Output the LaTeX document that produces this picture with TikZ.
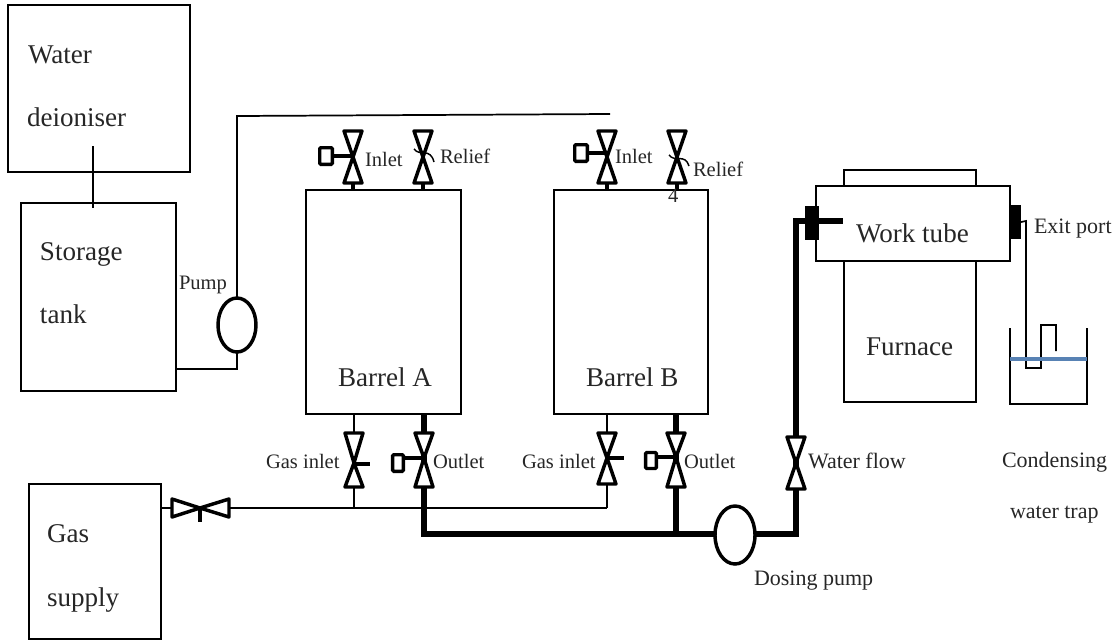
\documentclass[tikz,border=0pt]{standalone}
\usepackage{fontspec}
\usetikzlibrary{shapes.geometric}
\setmainfont{Liberation Serif}
\newcommand\fs[1]{\fontsize{#1}{#1}\selectfont}
% name, x, top, crossing, bottom
\newcommand\vvalve[5]{%
  \coordinate (#1t) at (#2,#3);\coordinate (#1c) at (#2,#4);\coordinate (#1b) at (#2,#5);
  \draw[valveline] (#2-9,#3)--(#2+9,#3)--(#2,#4)--(#2+9,#5)--(#2-9,#5)--(#2,#4)--cycle;}
\tikzset{
  x=0.75pt,y=-0.75pt,
  boxed/.style={draw=black,line width=1.5pt,fill=white,inner sep=0pt,outer sep=0pt},
  thinpipe/.style={draw=black,line width=1.3pt,line join=miter},
  medpipe/.style={draw=black,line width=2.4pt},
  thickpipe/.style={draw=black,line width=4.6pt,line join=miter},
  valveline/.style={draw=black,fill=white,line width=2.6pt,line join=round},
  handlebox/.style={draw=black,fill=white,line width=2.6pt,rounded corners=0.8pt,inner sep=0pt,outer sep=0pt},
  pumpshape/.style={ellipse,draw=black,line width=2.6pt,fill=white,inner sep=0pt,outer sep=0pt},
  plug/.style={fill=black,draw=none,inner sep=0pt,outer sep=0pt},
  lab/.style={inner sep=0pt,outer sep=0pt,anchor=base west,text=black!85,font=\fs{15.4}},
  biglab/.style={inner sep=0pt,outer sep=0pt,anchor=base west,text=black!85,font=\fs{16.5}},
  hugelab/.style={inner sep=0pt,outer sep=0pt,anchor=base west,text=black!85,font=\fs{20.3}},
}
\begin{document}
\begin{tikzpicture}
\useasboundingbox (0,0) rectangle (1118,640);
% boxes
\node[boxed,minimum width=136.5pt,minimum height=125.25pt] (deion) at (99,88) {};
\node[boxed,minimum width=116.25pt,minimum height=141pt] (tank) at (98.5,297) {};
\node[boxed,minimum width=116.25pt,minimum height=168pt] (barA) at (383.5,302) {};
\node[boxed,minimum width=115.5pt,minimum height=168pt] (barB) at (631,302) {};
\node[boxed,minimum width=99pt,minimum height=116.25pt] (gas) at (95,561.5) {};
\node[boxed,minimum width=99pt,minimum height=12pt] (tubetop) at (910,178) {};
\node[boxed,minimum width=99pt,minimum height=105.75pt] (furn) at (910,331.5) {};
\node[boxed,minimum width=145.5pt,minimum height=56.25pt] (tube) at (913,223.5) {};
% coordinates
\coordinate (dtap) at (93,146);
\coordinate (ttap) at (93,208);
\coordinate (tankout) at (176,369);
\coordinate (corner) at (237,369);
\coordinate (feedc) at (237,116);
\coordinate (feedend) at (610,114);
\coordinate (gasout) at (161,508);
\coordinate (gasjA) at (354,508);
\coordinate (gasjB) at (607,508);
\coordinate (bus0) at (424,534);
\coordinate (busB) at (676,534);
\coordinate (bend1) at (796,534);
\coordinate (bend2) at (796,221);
\coordinate (inend) at (843,221);
% pumps
\node[pumpshape,minimum width=28.5pt,minimum height=40.5pt] (pump) at (237,325) {};
\node[pumpshape,minimum width=30pt,minimum height=43.5pt] (dose) at (735,535) {};
% pipes
\draw[thinpipe] (dtap) -- (ttap);
\draw[thinpipe] (tankout) -- (corner) -- (pump.south);
\draw[thinpipe] (pump.north) -- (feedc) -- (feedend);
\draw[thinpipe] (gasout) -- (gasjB);
\draw[thickpipe] (barA.south -| bus0) -- (bus0) -- (dose.west |- bus0);
\draw[thickpipe] (barB.south -| busB) -- (busB);
\draw[thickpipe] (dose.east |- bend1) -- (bend1) -- (bend2) -- (inend);
% valves
\vvalve{ia}{353}{131}{157}{183}
\vvalve{ra}{423}{131}{157}{183}
\vvalve{ib}{607}{131}{157}{183}
\vvalve{rb}{677}{131}{157}{183}
\vvalve{ga}{354}{433}{463}{487}
\vvalve{oa}{424}{433}{458}{487}
\vvalve{gb}{607}{433}{458}{484}
\vvalve{ob}{676}{433}{457}{487}
\vvalve{wf}{796}{437}{463}{489}
% stems
\draw[medpipe] (iab) -- (iab |- barA.north);
\draw[medpipe] (rab) -- (rab |- barA.north);
\draw[medpipe] (ibb) -- (ibb |- barB.north);
\draw[medpipe] (rbb) -- (rbb |- barB.north);
\draw[thinpipe] (gat) -- (gat |- barA.south);
\draw[thinpipe] (gab) -- (gasjA);
\draw[thinpipe] (gbt) -- (gbt |- barB.south);
\draw[thinpipe] (gbb) -- (gasjB);
% handles
\node[handlebox,minimum width=9.4pt,minimum height=12.4pt] (hia) at (326,156) {};
\node[handlebox,minimum width=9.4pt,minimum height=12.4pt] (hib) at (581,153) {};
\node[handlebox,minimum width=8pt,minimum height=12.4pt] (hoa) at (398,463) {};
\node[handlebox,minimum width=8pt,minimum height=12pt] (hob) at (651,460.5) {};
\draw[medpipe] (hia.east) -- (iac |- hia.east);
\draw[medpipe] (hib.east) -- (ibc |- hib.east);
\draw[medpipe] (hoa.east |- oac) -- (oac);
\draw[medpipe] (hob.east |- obc) -- (obc);
\coordinate (hga) at (370,464);
\coordinate (hgb) at (624,458);
\draw[medpipe] (gac |- hga) -- (hga);
\draw[medpipe] (gbc |- hgb) -- (hgb);
% relief springs
\draw[line width=1.1pt] (414,149) .. controls (420,157) and (430,147) .. (434,162);
\draw[line width=1.1pt] (669,155) .. controls (675,163) and (685,153) .. (689,166);
% gas valve
\coordinate (gvc) at (200,508);
\coordinate (gvh) at (200,522);
\draw[medpipe] (gvc) -- (gvh);
\draw[valveline] (172,499)--(200,508)--(229,499)--(229,517)--(200,508)--(172,517)--cycle;
% furnace ports
\node[plug,minimum width=10.5pt,minimum height=25.5pt] (pl) at (812,223) {};
\node[plug,minimum width=8.25pt,minimum height=25.5pt] (pr) at (1015.5,222) {};
\draw[thickpipe] (bend2) -- (inend);
% trap
\coordinate (t1) at (1026,221);
\coordinate (t2) at (1026,368);
\coordinate (t3) at (1041,368);
\coordinate (t4) at (1041,325);
\coordinate (t5) at (1056,325);
\coordinate (t6) at (1056,351);
\draw[thinpipe] (pr.east) -- (t1) -- (t2) -- (t3) -- (t4) -- (t5) -- (t6);
\coordinate (bk1) at (1010,328);
\coordinate (bk2) at (1010,404);
\coordinate (bk3) at (1087,404);
\coordinate (bk4) at (1087,328);
\draw[thinpipe,line width=1.4pt] (bk1) -- (bk2) -- (bk3) -- (bk4);
\coordinate (w1) at (1010,359);
\coordinate (w2) at (1087,359);
\draw[draw={rgb,255:red,88;green,130;blue,180},line width=2.6pt] (w1) -- (w2);
% labels
\node[hugelab] (t-a) at (28,63) {Water};
\node[hugelab] (t-b) at (27,126) {deioniser};
\node[hugelab] (t-c) at (40,260) {Storage};
\node[hugelab] (t-d) at (40,323) {tank};
\node[lab] (t-e) at (179,289) {Pump};
\node[lab] (t-f) at (365,166) {Inlet};
\node[lab] (t-g) at (440,163) {Relief};
\node[lab] (t-h) at (615,163) {Inlet};
\node[lab] (t-i) at (693,176) {Relief};
\node[lab] (t-j) at (668,202) {4};
\node[hugelab] (t-k) at (338,386) {Barrel A};
\node[hugelab] (t-l) at (586,386) {Barrel B};
\node[lab] (t-m) at (266,468) {Gas inlet};
\node[lab] (t-n) at (433,468) {Outlet};
\node[lab] (t-o) at (522,468) {Gas inlet};
\node[lab] (t-p) at (684,468) {Outlet};
\node[biglab] (t-q) at (808,468) {Water flow};
\node[biglab] (t-r) at (754,585) {Dosing pump};
\node[biglab] (t-s) at (1002,467) {Condensing};
\node[biglab] (t-t) at (1010,518) {water trap};
\node[hugelab] (t-u) at (856,242) {Work tube};
\node[hugelab] (t-v) at (866,355) {Furnace};
\node[biglab] (t-w) at (1034,233) {Exit port};
\node[hugelab] (t-x) at (47,542) {Gas};
\node[hugelab] (t-y) at (47,606) {supply};
\end{tikzpicture}
\end{document}
